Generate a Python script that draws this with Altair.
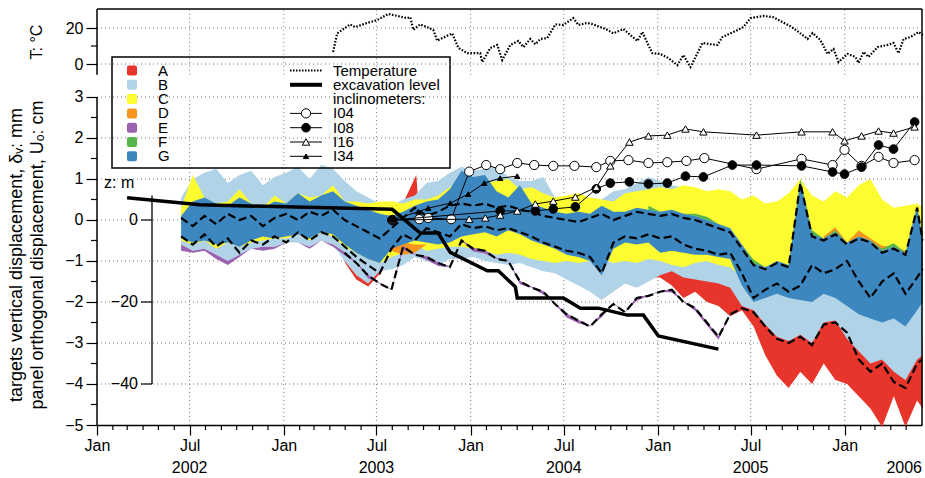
import altair as alt
import pandas as pd

FONT = "Liberation Sans"
W, H = 825, 416

# ---------------- data ----------------
grid_years = [
    2002.4500, 2002.5125, 2002.5750, 2002.6375, 2002.7000, 2002.7625, 2002.8250, 2002.8875,
    2002.9500, 2003.0125, 2003.0750, 2003.1375, 2003.2000, 2003.2625, 2003.3250, 2003.3875,
    2003.4500, 2003.5125, 2003.5750, 2003.6375, 2003.7000, 2003.7625, 2003.8250, 2003.8875,
    2003.9500, 2004.0125, 2004.0750, 2004.1375, 2004.2000, 2004.2625, 2004.3250, 2004.3875,
    2004.4500, 2004.5125, 2004.5750, 2004.6375, 2004.7000, 2004.7625, 2004.8250, 2004.8875,
    2004.9500, 2005.0125, 2005.0750, 2005.1375, 2005.2000, 2005.2625, 2005.3250, 2005.3875,
    2005.4500, 2005.5125, 2005.5750, 2005.6375, 2005.7000, 2005.7625, 2005.8250, 2005.8875,
    2005.9500, 2006.0125, 2006.0750, 2006.1375, 2006.2000, 2006.2625, 2006.3250, 2006.3875,
    2006.4167,
]

B_up = [0.55, 1.00, 1.15, 1.25, 0.90, 1.10, 1.20, 0.85,
        1.05, 1.15, 1.30, 1.00, 1.35, 1.25, 0.95, 0.70,
        0.55, 0.40, 0.35, 0.50, 0.60, 0.90, 0.95, 1.15,
        1.30, 1.20, 1.25, 1.30, 1.05, 0.95, 0.95, 1.05,
        0.55, 0.55, 0.60, 0.55, 0.50, 0.70, 0.75, 0.90,
        1.05, 0.95, 0.85, 0.80, 0.65, 0.60, 0.50, 0.40,
        0.30, 0.20, 0.10, 0.20, 0.20, 0.20, 0.30, 0.20,
        0.20, 0.30, 0.40, 0.30, 0.30, 0.20, 0.30, 0.20,
        0.20]
B_lo = [-0.60, -0.75, -0.70, -0.85, -1.00, -0.85, -0.70, -0.65,
        -0.65, -0.55, -0.55, -0.65, -0.50, -0.60, -1.00, -1.35,
        -1.55, -1.25, -1.20, -1.10, -0.90, -1.00, -1.10, -0.95,
        -0.95, -0.90, -1.00, -1.05, -1.10, -1.05, -1.15, -1.25,
        -1.30, -1.45, -1.60, -1.75, -1.95, -1.75, -1.55, -1.65,
        -1.50, -1.35, -1.25, -1.40, -1.45, -1.50, -1.55, -1.65,
        -2.10, -2.20, -2.55, -2.85, -2.95, -2.80, -3.00, -2.50,
        -2.45, -2.90, -3.20, -3.50, -3.40, -3.70, -3.90, -3.40,
        -3.30]
C_up = [0.30, 1.10, 0.55, 0.40, 0.45, 0.75, 0.40, 0.30,
        0.60, 0.40, 0.65, 0.55, 0.60, 0.85, 0.45, 0.45,
        0.40, 0.45, 0.45, 0.40, 0.50, 0.50, 0.60, 0.80,
        1.00, 0.95, 0.90, 0.95, 1.00, 0.75, 0.80, 0.65,
        0.55, 0.60, 0.65, 0.55, 0.50, 0.45, 0.65, 0.70,
        0.75, 0.80, 0.75, 0.85, 0.80, 0.70, 0.75, 0.70,
        0.50, 0.60, 0.40, 0.45, 0.65, 1.00, 0.60, 0.45,
        0.70, 0.55, 0.85, 1.00, 0.50, 0.30, 0.35, 0.40,
        0.30]
C_lo = [-0.50, -0.60, -0.50, -0.70, -0.55, -0.65, -0.55, -0.50,
        -0.45, -0.45, -0.35, -0.50, -0.30, -0.40, -0.65, -0.80,
        -0.95, -1.05, -0.90, -0.80, -0.60, -0.75, -0.70, -0.65,
        -0.65, -0.70, -0.75, -0.85, -0.80, -0.85, -0.95, -1.00,
        -1.05, -1.00, -1.05, -1.00, -0.95, -1.05, -1.00, -1.05,
        -0.95, -1.00, -1.10, -1.15, -1.05, -1.00, -1.10, -1.15,
        -1.40, -1.50, -1.30, -1.20, -1.40, -1.60, -1.30, -1.50,
        -1.60, -1.30, -1.50, -1.60, -1.50, -1.60, -1.70, -1.60,
        -1.50]
G_up = [0.10, 0.45, 0.55, 0.40, 0.35, 0.55, 0.40, 0.30,
        0.45, 0.40, 0.65, 0.45, 0.60, 0.70, 0.45, 0.35,
        0.25, 0.15, 0.10, 0.20, 0.35, 0.45, 0.50, 0.75,
        1.20, 1.05, 1.10, 0.70, 0.55, 0.85, 0.40, 0.30,
        0.20, 0.15, 0.20, 0.15, 0.35, 0.20, 0.20, 0.30,
        0.25, 0.20, 0.25, 0.15, 0.10, 0.00, -0.10, -0.20,
        -0.60, -1.05, -1.15, -1.00, -1.10, 0.95, -0.35, -0.45,
        -0.30, -0.55, -0.40, -0.50, -0.75, -0.65, -0.80, 0.35,
        -0.45]
G_lo = [-0.45, -0.55, -0.50, -0.60, -0.55, -0.65, -0.50, -0.40,
        -0.45, -0.40, -0.35, -0.45, -0.30, -0.35, -0.60, -0.80,
        -0.95, -1.05, -0.70, -0.60, -0.50, -0.55, -0.60, -0.55,
        -0.40, -0.35, -0.30, -0.40, -0.25, -0.35, -0.50, -0.60,
        -0.70, -0.85, -0.90, -1.00, -1.35, -0.70, -0.55, -0.60,
        -0.55, -0.80, -0.75, -0.80, -0.85, -0.85, -0.90, -0.95,
        -1.60, -2.00, -1.90, -1.80, -1.90, -1.95, -2.00, -1.80,
        -1.90, -2.10, -2.30, -2.40, -2.50, -2.40, -2.60, -2.20,
        -2.00]

# A (red): two visible stretches
A1_years = [2003.274, 2003.328, 2003.387, 2003.451, 2003.515, 2003.569, 2003.611, 2003.708, 2003.724, 2003.783]
A1_lo = [-0.50, -1.05, -1.45, -1.62, -1.30, -0.50, -0.30, -0.30, -0.20, -0.20]
A1_up = [-0.45, -0.90, -1.20, -1.45, -1.20, -0.30, 0.15, 1.10, 0.10, 0.00]
A2_lo = [-1.40, -1.40, -1.60, -1.90, -1.75, -2.00, -2.10, -2.35,
         -2.20, -2.60, -3.30, -3.80, -4.10, -3.70, -4.00, -3.50,
         -3.90, -4.00, -4.30, -4.60, -5.05, -4.30, -5.05, -4.40, -4.60]
A2_up = [-1.30, -1.20, -1.20, -1.30, -1.30, -1.40, -1.50, -1.60,
         -1.90, -1.90, -2.00, -2.40, -2.60, -2.60, -2.60, -2.40,
         -2.40, -2.70, -3.00, -3.10, -3.00, -3.10, -3.20, -3.00, -2.90]

# D (orange) small patches
D1_years = [2003.5750, 2003.6375, 2003.7000, 2003.7625]
D1_lo = [-0.75, -0.85, -0.80, -0.60]
D1_up = [-0.65, -0.55, -0.60, -0.60]
D2_years = [2005.8875, 2005.9500, 2006.0125, 2006.0750, 2006.1375, 2006.2000, 2006.2625, 2006.3250]
D2_lo = [-0.45, -0.30, -0.55, -0.40, -0.50, -0.75, -0.65, -0.80]
D2_up = [-0.40, -0.18, -0.55, -0.25, -0.45, -0.63, -0.65, -0.75]

# E (purple) along the lowest track, first 48 sampling dates
E_up = [-0.60, -0.75, -0.70, -0.85, -1.00, -0.85, -0.70, -0.65,
        -0.65, -0.55, -0.55, -0.65, -0.50, -0.60,
        -0.78, -1.03, -1.33, -1.53, -1.68, -0.63, -0.83, -0.88, -1.03, -1.13,
        -0.48, -0.68, -0.73, -0.93, -0.98, -1.48, -1.63, -1.73, -2.03, -2.28,
        -2.43, -2.58, -2.28, -2.03, -2.23, -1.88, -1.83, -1.73, -1.68, -1.98,
        -2.13, -2.48, -2.83, -2.28]
E_lo = [-0.75, -0.80, -0.75, -0.95, -1.10, -0.90, -0.70, -0.75,
        -0.70, -0.55, -0.55, -0.70, -0.50, -0.65,
        -0.86, -1.05, -1.42, -1.55, -1.70, -0.72, -0.85, -0.97, -1.12, -1.15,
        -0.50, -0.77, -0.82, -0.95, -1.00, -1.57, -1.65, -1.82, -2.05, -2.38,
        -2.52, -2.60, -2.37, -2.05, -2.25, -1.97, -1.85, -1.75, -1.77, -2.00,
        -2.22, -2.57, -2.92, -2.30]

# F (green) slivers, sampling dates 40..63
F_lo = [0.25, 0.20, 0.25, 0.15, 0.10, 0.00, -0.10, -0.20,
        -0.60, -1.05, -1.15, -1.00, -1.10, 0.95, -0.35, -0.45,
        -0.30, -0.55, -0.40, -0.50, -0.75, -0.65, -0.80, 0.35]
F_up = [0.35, 0.20, 0.25, 0.15, 0.15, 0.08, -0.10, -0.20,
        -0.60, -0.97, -1.15, -1.00, -1.10, 1.00, -0.25, -0.45,
        -0.25, -0.55, -0.40, -0.50, -0.70, -0.57, -0.80, 0.35]

# dashed displacement lines
L1 = [0.05, -0.15, 0.10, -0.10, 0.15, 0.00, 0.10, -0.15,
      0.05, 0.15, 0.00, 0.20, 0.10, 0.25, 0.00, -0.15,
      -0.30, -0.45, -0.20, 0.05, 0.30, 0.10, 0.20, 0.35,
      0.40, 0.35, 0.40, 0.30, 0.35, 0.25, 0.20, 0.10,
      0.05, 0.00, -0.05, 0.05, 0.15, 0.00, 0.10, 0.20,
      0.15, 0.10, 0.15, 0.05, 0.00, -0.10, -0.20, -0.30,
      -0.70, -1.10, -1.20, -1.05, -1.15, 0.90, -0.40, -0.50,
      -0.35, -0.60, -0.45, -0.55, -0.80, -0.70, -0.85, 0.30,
      -0.50]
L2 = [-0.40, -0.60, -0.35, -0.65, -0.45, -0.80, -0.50, -0.60,
      -0.40, -0.55, -0.30, -0.50, -0.30, -0.40, -0.65, -0.90,
      -1.10, -1.30, -0.70, -0.35, -0.50, -0.20, -0.30, -0.40,
      -0.10, -0.20, -0.15, -0.25, -0.20, -0.30, -0.40, -0.55,
      -0.65, -0.75, -0.80, -0.90, -1.30, -0.55, -0.40, -0.45,
      -0.35, -0.45, -0.40, -0.60, -0.70, -0.75, -0.85, -0.80,
      -1.30, -1.90, -1.70, -1.55, -1.75, -1.60, -1.10, -1.30,
      -1.20, -1.00, -1.50, -1.90, -1.50, -1.30, -1.80, -1.40,
      -1.20]
L3 = [-0.80, -1.05, -1.35, -1.55, -1.70, -0.65, -0.85, -0.90, -1.05, -1.15,
      -0.50, -0.70, -0.75, -0.95, -1.00, -1.50, -1.65, -1.75, -2.05, -2.30,
      -2.45, -2.60, -2.30, -2.05, -2.25, -1.90, -1.85, -1.75, -1.70, -2.00,
      -2.15, -2.50, -2.85, -2.30, -2.15, -2.25, -2.60, -2.90, -3.00, -2.85,
      -3.05, -2.55, -2.50, -2.75, -3.40, -3.70, -3.50, -3.95, -4.10, -3.50,
      -3.40]  # from sampling date 14 on

# excavation level (m)
exc_years = [2002.161, 2002.551, 2003.579, 2003.729, 2003.825, 2003.890, 2004.088, 2004.147,
             2004.238, 2004.248, 2004.495, 2004.586, 2004.682, 2004.837, 2004.923, 2005.003, 2005.324]
exc_z = [5.4, 3.7, 2.6, -3.2, -3.2, -7.9, -12.4, -12.4, -16.3, -19.0, -19.0, -21.5, -21.5,
         -23.2, -23.2, -28.3, -31.5]
z_ticks = [0, -20, -40]

# inclinometers (cm)
I04_years = [2003.579, 2003.724, 2003.772, 2003.895, 2003.991, 2004.082, 2004.157, 2004.248, 2004.339,
             2004.441, 2004.554, 2004.671, 2004.746, 2004.843, 2004.950, 2005.051, 2005.153, 2005.249,
             2005.528, 2005.769, 2005.935, 2005.999, 2006.090, 2006.181, 2006.261, 2006.374]
I04_vals = [0.00, 0.02, 0.05, 0.02, 1.18, 1.34, 1.24, 1.39, 1.34, 1.32, 1.32, 1.29, 1.44, 1.46,
            1.39, 1.41, 1.44, 1.51, 1.24, 1.49, 1.34, 1.71, 1.32, 1.54, 1.39, 1.46]
I08_years = [2003.579, 2004.157, 2004.345, 2004.441, 2004.559, 2004.671, 2004.746, 2004.848, 2004.950,
             2005.051, 2005.148, 2005.244, 2005.399, 2005.528, 2005.769, 2005.935, 2005.999, 2006.090,
             2006.181, 2006.261, 2006.374]
I08_vals = [0.00, 0.22, 0.22, 0.27, 0.32, 0.76, 0.90, 0.93, 0.88, 0.90, 1.07, 1.05, 1.34, 1.34,
            1.32, 1.17, 1.12, 1.29, 1.83, 1.73, 2.39]
I16_years = [2003.579, 2003.991, 2004.077, 2004.157, 2004.248, 2004.345, 2004.441, 2004.559, 2004.671,
             2004.746, 2004.848, 2004.950, 2005.051, 2005.148, 2005.244, 2005.528, 2005.769, 2005.935,
             2005.999, 2006.090, 2006.181, 2006.261, 2006.374]
I16_vals = [0.00, 0.02, 0.05, 0.12, 0.22, 0.39, 0.46, 0.56, 0.80, 1.32, 1.90, 2.05, 2.07, 2.22,
            2.15, 2.07, 2.15, 2.15, 1.93, 2.05, 2.17, 2.12, 2.27]
I34_years = [2003.579, 2003.718, 2003.772, 2003.890, 2003.986, 2004.072, 2004.157, 2004.248]
I34_vals = [0.00, 0.20, 0.29, 0.41, 0.63, 0.90, 1.02, 1.07]

# temperature (deg C)
temp_years = [2003.263, 2003.285, 2003.354, 2003.381, 2003.445, 2003.499, 2003.558, 2003.660, 2003.676,
              2003.692, 2003.729, 2003.799, 2003.820, 2003.900, 2003.933, 2003.981, 2004.050, 2004.061,
              2004.104, 2004.141, 2004.168, 2004.211, 2004.254, 2004.281, 2004.318, 2004.345, 2004.372,
              2004.409, 2004.452, 2004.495, 2004.548, 2004.575, 2004.623, 2004.655, 2004.730, 2004.762,
              2004.816, 2004.891, 2004.918, 2004.944, 2004.971, 2005.014, 2005.057, 2005.105, 2005.137,
              2005.175, 2005.212, 2005.239, 2005.282, 2005.319, 2005.346, 2005.405, 2005.458, 2005.496,
              2005.565, 2005.619, 2005.667, 2005.710, 2005.747, 2005.801, 2005.828, 2005.870, 2005.908,
              2005.940, 2005.967, 2006.015, 2006.058, 2006.074, 2006.101, 2006.127, 2006.176, 2006.229,
              2006.261, 2006.288, 2006.315, 2006.352, 2006.395, 2006.417]
temp_vals = [6.7, 17, 22, 20.5, 22.8, 24.4, 27.8, 25.5, 26, 19, 22, 19, 13, 17, 9, 6, 6, 1.1,
             8.9, 10.6, 2.2, 10.6, 12.8, 9.4, 13.9, 11, 13.9, 14.4, 22, 21.7, 25.5, 21.7, 22.8, 22,
             19, 17, 19.4, 12.8, 17.8, 11.7, 6, 5.6, 3.3, -0.6, 5, -1.7, 6, 11.7, 11, 10.6, 15,
             17.8, 20.5, 25.5, 26.7, 26, 23.3, 21, 18.3, 13.9, 17.2, 13.3, 5.6, 8.3, 1.1, 5.6, 3.9,
             0.6, 6.7, 3.9, 9.4, 10.6, 11.7, 6, 13.9, 15, 17.8, 16]

groups = ["A", "B", "C", "D", "E", "F", "G"]
group_colors = ["#e8352b", "#b0d3e8", "#fcfc30", "#f7941d", "#9b62b0", "#55b74b", "#3d87c1"]
year_labels = ["2002", "2003", "2004", "2005"]
year_label_dates = ["2002-07-01", "2003-07-01", "2004-07-01", "2005-07-01"]
major_dates = [(2002, 1), (2002, 7), (2003, 1), (2003, 7), (2004, 1), (2004, 7), (2005, 1), (2005, 7), (2006, 1)]
grid_dates = ["2002-07-01", "2003-01-01", "2003-07-01", "2004-01-01", "2004-07-01",
              "2005-01-01", "2005-07-01", "2006-01-01"]


# ---------------- helpers ----------------
def to_time(years):
    base = pd.Timestamp("2002-01-01")
    return [base + pd.Timedelta(days=(y - 2002.0) * 365.25) for y in years]


XS = alt.Scale(domain=[alt.DateTime(year=2002, month=1, date=1), alt.DateTime(year=2006, month=6, date=1)])
YB = alt.Scale(domain=[-5, 5.146], nice=False, zero=False)
YT = alt.Scale(domain=[-200.56, 30.56], nice=False, zero=False)
one = pd.DataFrame({"d": [0]})
GRID = dict(color="#7a7a7a", strokeDash=[1, 3], strokeWidth=1)


def xe(f="t", axis=alt.Undefined):
    return alt.X(f"{f}:T", scale=XS, axis=axis, title=None)


def yb(f, axis=alt.Undefined):
    return alt.Y(f"{f}:Q", scale=YB, axis=axis, title=None)


def yt(f, axis=alt.Undefined):
    return alt.Y(f"{f}:Q", scale=YT, axis=axis, title=None)


def ptext(txt, x, y, size=15, align="left", angle=0):
    return alt.Chart(one).mark_text(text=txt, font=FONT, fontSize=size, fontWeight="normal", align=align,
                                    baseline="middle", angle=angle, color="black").encode(
        x=alt.value(x), y=alt.value(y))


def prule(x, x2, y, y2=None, **kw):
    enc = dict(x=alt.value(x), x2=alt.value(x2), y=alt.value(y))
    if y2 is not None:
        enc["y2"] = alt.value(y2)
    return alt.Chart(one).mark_rule(**kw).encode(**enc)


def band(years, lo, up, seg=0):
    return pd.DataFrame({"t": to_time(years), "lo": lo, "up": up, "seg": seg})


AX_X = alt.Axis(values=[alt.DateTime(year=y, month=m, date=1) for (y, m) in major_dates],
                labelExpr="month(datum.value) == 0 ? 'Jan' : 'Jul'",
                tickSize=10, tickColor="black", tickWidth=1.2, domain=True, domainColor="black",
                domainWidth=1.5, labelFontSize=16, labelFont=FONT, labelColor="black", labelPadding=2,
                labelOverlap=False, labelFlush=False, grid=False, title=None, orient="bottom", labels=True,
                ticks=True)
AX_Y = alt.Axis(values=[-5, -4, -3, -2, -1, 0, 1, 2, 3], tickSize=11, tickColor="black", tickWidth=1.2,
                domain=False, labelFontSize=16, labelFont=FONT, labelColor="black", labelPadding=3,
                grid=False, title=None, labelOverlap=False, orient="left", labels=True, ticks=True)
AX_T = alt.Axis(values=[0, 20], tickSize=11, tickColor="black", tickWidth=1.2, domain=False,
                labelFontSize=16, labelFont=FONT, labelColor="black", labelPadding=3, grid=False,
                title=None, orient="left", labelOverlap=False, labels=True, ticks=True)

# ---------------- bottom panel ----------------
bl = []
# grids (these first layers carry the axes)
bl.append(alt.Chart(pd.DataFrame({"u": [-4, -3, -2, -1, 0, 1, 2, 3]})).mark_rule(**GRID)
          .encode(y=yb("u", axis=AX_Y)))
bl.append(alt.Chart(pd.DataFrame({"t": pd.to_datetime(grid_dates), "a": -5, "b": 3}))
          .mark_rule(**GRID).encode(x=xe(axis=AX_X), y=yb("a"), y2="b"))

# bands (drawing order A..G)
dfA = pd.concat([band(A1_years, A1_lo, A1_up, 1), band(grid_years[40:], A2_lo, A2_up, 2)])
bl.append(alt.Chart(dfA).mark_area(color=group_colors[0], opacity=1).encode(
    x=xe(), y=yb("lo"), y2="up", detail="seg:N"))
bl.append(alt.Chart(band(grid_years, B_lo, B_up)).mark_area(color=group_colors[1], opacity=1)
          .encode(x=xe(), y=yb("lo"), y2="up"))
bl.append(alt.Chart(band(grid_years, C_lo, C_up)).mark_area(color=group_colors[2], opacity=1)
          .encode(x=xe(), y=yb("lo"), y2="up"))
dfD = pd.concat([band(D1_years, D1_lo, D1_up, 1), band(D2_years, D2_lo, D2_up, 2)])
bl.append(alt.Chart(dfD).mark_area(color=group_colors[3], opacity=1)
          .encode(x=xe(), y=yb("lo"), y2="up", detail="seg:N"))
bl.append(alt.Chart(band(grid_years[:48], E_lo, E_up)).mark_area(color=group_colors[4], opacity=1)
          .encode(x=xe(), y=yb("lo"), y2="up"))
bl.append(alt.Chart(band(grid_years[40:64], F_lo, F_up)).mark_area(color=group_colors[5], opacity=1)
          .encode(x=xe(), y=yb("lo"), y2="up"))
bl.append(alt.Chart(band(grid_years, G_lo, G_up)).mark_area(color=group_colors[6], opacity=1)
          .encode(x=xe(), y=yb("lo"), y2="up"))

# dashed lines
for vals, yrs in [(L1, grid_years), (L2, grid_years), (L3, grid_years[14:])]:
    bl.append(alt.Chart(pd.DataFrame({"t": to_time(yrs), "v": vals}))
              .mark_line(color="black", strokeWidth=2.2, strokeDash=[8, 4]).encode(x=xe(), y=yb("v")))

# excavation level (z in m -> plotted at z/10)
bl.append(alt.Chart(pd.DataFrame({"t": to_time(exc_years), "z": exc_z}))
          .transform_calculate(u="datum.z / 10")
          .mark_line(color="black", strokeWidth=3.5).encode(x=xe(), y=yb("u")))
# z axis
bl.append(alt.Chart(pd.DataFrame({"z0": [6], "z1": [-40]}))
          .transform_calculate(a="datum.z0 / 10", b="datum.z1 / 10")
          .mark_rule(color="black", strokeWidth=1.3).encode(x=alt.value(55), y=yb("a"), y2="b"))
zdf = pd.DataFrame({"z": z_ticks})
bl.append(alt.Chart(zdf).transform_calculate(u="datum.z / 10")
          .mark_rule(color="black", strokeWidth=1.2).encode(x=alt.value(44), x2=alt.value(55), y=yb("u")))
bl.append(alt.Chart(zdf).transform_calculate(u="datum.z / 10")
          .mark_text(font=FONT, fontSize=16, fontWeight="normal", align="right", baseline="middle", color="black")
          .encode(x=alt.value(41), y=yb("u"), text=alt.Text("z:Q", format="d")))
bl.append(ptext("z: m", 7, 174, size=16))

# inclinometers
incl = [
    (I04_years, I04_vals, dict(shape="circle", filled=True, fill="white", stroke="black", strokeWidth=1, size=85)),
    (I08_years, I08_vals, dict(shape="circle", filled=True, fill="black", stroke="black", strokeWidth=1, size=75)),
    (I16_years, I16_vals, dict(shape="triangle-up", filled=True, fill="white", stroke="black", strokeWidth=1, size=55)),
    (I34_years, I34_vals, dict(shape="triangle-up", filled=True, fill="black", stroke="black", strokeWidth=1, size=28)),
]
for yrs, vals, style in incl:
    d = pd.DataFrame({"t": to_time(yrs), "v": vals})
    bl.append(alt.Chart(d).mark_line(color="black", strokeWidth=1).encode(x=xe(), y=yb("v")))
    bl.append(alt.Chart(d).mark_point(opacity=1, **style).encode(x=xe(), y=yb("v")))

# axis line and minor ticks of the displacement axis
bl.append(alt.Chart(pd.DataFrame({"a": [-5], "b": [3]})).mark_rule(color="black", strokeWidth=1.5)
          .encode(x=alt.value(0), y=yb("a"), y2="b"))
bl.append(alt.Chart(pd.DataFrame({"u": [-4.5, -3.5, -2.5, -1.5, -0.5, 0.5, 1.5, 2.5]}))
          .mark_rule(color="black", strokeWidth=1.2).encode(x=alt.value(-6), x2=alt.value(0), y=yb("u")))
# minor month ticks
months = [m for m in pd.date_range("2002-02-01", "2006-05-01", freq="MS") if m.month not in (1, 7)]
bl.append(alt.Chart(pd.DataFrame({"t": months})).mark_rule(color="black", strokeWidth=1.2)
          .encode(x=xe(), y=alt.value(H), y2=alt.value(H + 5)))
# year labels
bl.append(alt.Chart(pd.DataFrame({"t": pd.to_datetime(year_label_dates), "lab": year_labels}))
          .mark_text(font=FONT, fontSize=16, fontWeight="normal", align="center", baseline="middle", color="black")
          .encode(x=xe(), y=alt.value(H + 43), text="lab:N"))
bl.append(ptext("2006", W, H + 43, size=16, align="right"))

# frame
bl.append(prule(0, W, 0, color="black", strokeWidth=1.5))
bl.append(prule(W, W, 0, H, color="black", strokeWidth=1.5))

# axis titles
bl.append(ptext("T: °C", -60, 33, size=16, angle=270, align="center"))
bl.append(ptext("targets vertical displacement, δᵥ: mm", -80, 246, size=18, angle=270, align="center"))
bl.append(ptext("panel orthogonal displacement, Uₒ: cm", -59, 246, size=18, angle=270, align="center"))

# legend
rows = [61.5, 75.8, 90.1, 104.4, 118.7, 133.0, 147.3]
bl.append(alt.Chart(one).mark_rect(fillOpacity=0, stroke="black", strokeWidth=1.5).encode(
    x=alt.value(15), x2=alt.value(353), y=alt.value(48), y2=alt.value(159)))
for g, c, r in zip(groups, group_colors, rows):
    bl.append(alt.Chart(one).mark_rect(color=c, cornerRadius=2).encode(
        x=alt.value(30), x2=alt.value(40), y=alt.value(r - 5), y2=alt.value(r + 5)))
    bl.append(ptext(g, 61, r, size=15))
bl.append(prule(193, 225, rows[0], color="black", strokeWidth=2, strokeDash=[1.5, 1.5]))
bl.append(ptext("Temperature", 236, rows[0]))
bl.append(prule(193, 225, rows[1], color="black", strokeWidth=4))
bl.append(ptext("excavation level", 236, rows[1]))
bl.append(ptext("inclinometers:", 236, rows[2]))
for (yrs, vals, style), r, name in zip(incl, rows[3:], ["I04", "I08", "I16", "I34"]):
    bl.append(prule(193, 225, r, color="black", strokeWidth=1))
    bl.append(alt.Chart(one).mark_point(opacity=1, **style).encode(x=alt.value(209), y=alt.value(r)))
    bl.append(ptext(name, 236, r))

bottom = alt.layer(*bl)

# ---------------- top panel (temperature) ----------------
tl = []
tl.append(alt.Chart(pd.DataFrame({"T": [0, 20]})).mark_rule(**GRID).encode(y=yt("T", axis=AX_T)))
tl.append(alt.Chart(pd.DataFrame({"t": pd.to_datetime(grid_dates), "a": -6, "b": 30.56}))
          .mark_rule(**GRID).encode(x=xe(), y=yt("a"), y2="b"))
tl.append(alt.Chart(pd.DataFrame({"t": to_time(temp_years), "T": temp_vals}))
          .mark_line(color="black", strokeWidth=2.2, strokeDash=[1.6, 1.6])
          .encode(x=xe(), y=yt("T")))
tl.append(alt.Chart(pd.DataFrame({"a": [-6], "b": [30.56]})).mark_rule(color="black", strokeWidth=1.5)
          .encode(x=alt.value(0), y=yt("a"), y2="b"))
tl.append(alt.Chart(pd.DataFrame({"T": [10]})).mark_rule(color="black", strokeWidth=1.2)
          .encode(x=alt.value(-6), x2=alt.value(0), y=yt("T")))
top = alt.layer(*tl)

chart = (alt.layer(bottom, top)
         .resolve_scale(y="independent")
         .properties(width=W, height=H, autosize=alt.AutoSizeParams(type="none"),
                     padding={"left": 97, "top": 9, "right": 3, "bottom": 53})
         .configure_axis(grid=False)
         .configure_view(stroke=None))

chart.save("out.html", embed_options={"renderer": "svg", "actions": False})
